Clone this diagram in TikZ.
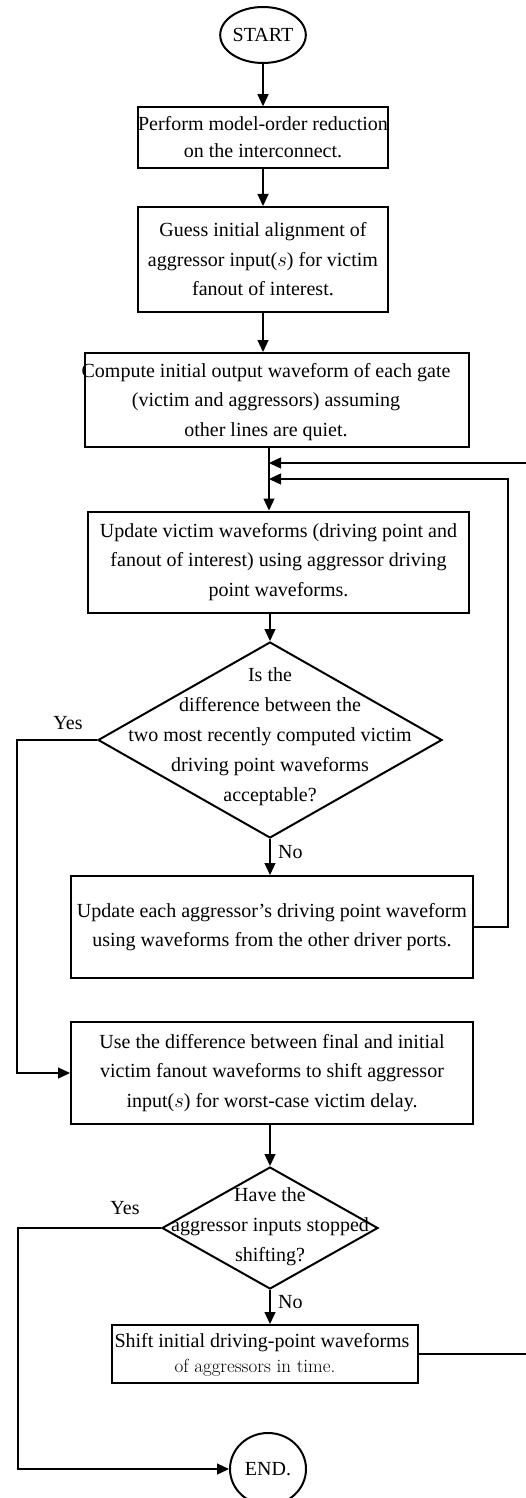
\documentclass[tikz,border=0pt]{standalone}
\usepackage{fontspec}
\setmainfont{Liberation Serif}
\newfontfamily\lmfont{Latin Modern Roman}
\usetikzlibrary{arrows.meta,shapes.geometric}
\begin{document}
\begin{tikzpicture}[x=1pt,y=-1pt,
  every node/.style={font=\fontsize{20}{29.5}\selectfont},
  box/.style={draw,line width=2pt,rectangle,inner sep=0pt,align=center},
  dia/.style={draw,line width=2pt,diamond,inner sep=0pt},
  term/.style={draw,line width=2pt,ellipse,inner sep=0pt},
  txt/.style={inner sep=0pt,align=center},
  lbl/.style={inner sep=0pt},
  arr/.style={line width=1.3pt,-{Triangle[length=12pt,width=11pt]}},
  ln/.style={line width=1.3pt}]
\useasboundingbox (0,0) rectangle (526,1498);

% terminals
\node[term,minimum width=74pt,minimum height=56pt] (start) at (263,35) {START};
\node[term,minimum width=76pt,minimum height=72pt] (end) at (268,1469) {END.};

% boxes
\node[box,line width=1.5pt,minimum width=250pt,minimum height=61pt,font=\fontsize{20}{27}\selectfont] (b1) at (263,137.5)
  {Perform model-order reduction\\on the interconnect.};
\node[box,minimum width=250pt,minimum height=105pt] (b2) at (263,259.5)
  {Guess initial alignment of\\aggressor input($s$) for victim\\fanout of interest.};
\node[box,minimum width=384pt,minimum height=94pt] (b3) at (277,400) {};
\node[txt] (t3) at (266,402)
  {Compute initial output waveform of each gate\\(victim and aggressors) assuming\hspace*{24pt}\\other lines are quiet.};
\node[box,minimum width=381pt,minimum height=101pt] (b4) at (278.5,562)
  {Update victim waveforms (driving point and\\fanout of interest) using aggressor driving\\point waveforms.};
\node[dia,minimum width=344pt,minimum height=196pt] (d1) at (270,740) {};
\node[txt,font=\fontsize{20}{30}\selectfont] (td1) at (270,737)
  {Is the\\difference between the\\two most recently computed victim\\driving point waveforms\\acceptable?};
\node[box,minimum width=402pt,minimum height=102pt] (b5) at (272,927)
  {Update each aggressor's driving point waveform\\using waveforms from the other driver ports.};
\node[box,minimum width=402pt,minimum height=102pt] (b6) at (272,1073)
  {Use the difference between final and initial\\victim fanout waveforms to shift aggressor\\input($s$) for worst-case victim delay.};
\node[dia,minimum width=216pt,minimum height=122pt] (d2) at (270,1228) {};
\node[txt,font=\fontsize{20}{30}\selectfont] (td2) at (270,1227)
  {Have the\\aggressor inputs stopped\\shifting?};
\node[box,minimum width=306pt,minimum height=58pt] (b7) at (265,1354) {};
\node[txt] (t7a) at (262,1343) {Shift initial driving-point waveforms};
\node[txt,font=\lmfont\fontsize{19}{22}\selectfont] (t7b) at (255,1368) {of aggressors in time.};

% labels
\node[lbl] (yes1) at (68,723) {Yes};
\node[lbl,anchor=west] (no1) at (278,852) {No};
\node[lbl] (yes2) at (125,1208) {Yes};
\node[lbl,anchor=west] (no2) at (278,1302) {No};

% helper coordinates
\coordinate (mx) at (269,0);
\coordinate (j1) at (269,463);
\coordinate (j2) at (269,479);
\coordinate (r1) at (508,479);
\coordinate (r2) at (545,463);
\coordinate (l1) at (17,1073);
\coordinate (l2) at (18,1469);

% connectors
\draw[arr] (start) -- (b1);
\draw[arr] (b1) -- (b2);
\draw[arr] (b2.south) -- (b2.south |- b3.north);
\draw[arr] (b3.south -| mx) -- (b4.north -| mx);
\draw[arr] (b4.south -| d1.north) -- (d1.north);
\draw[arr] (d1.south) -- (d1.south |- b5.north);
\draw[arr] (b5.east) -| (r1) -- (j2);
\draw[arr] (d1.west) -| (l1) -- (b6.west);
\draw[arr] (b6.south -| d2.north) -- (d2.north);
\draw[arr] (d2.south) -- (d2.south |- b7.north);
\draw[arr] (d2.west) -| (l2) -- (end.west);
\begin{scope}
\clip (0,0) rectangle (526,1498);
\draw[arr] (b7.east) -| (r2) -- (j1);
\end{scope}
\end{tikzpicture}
\end{document}
